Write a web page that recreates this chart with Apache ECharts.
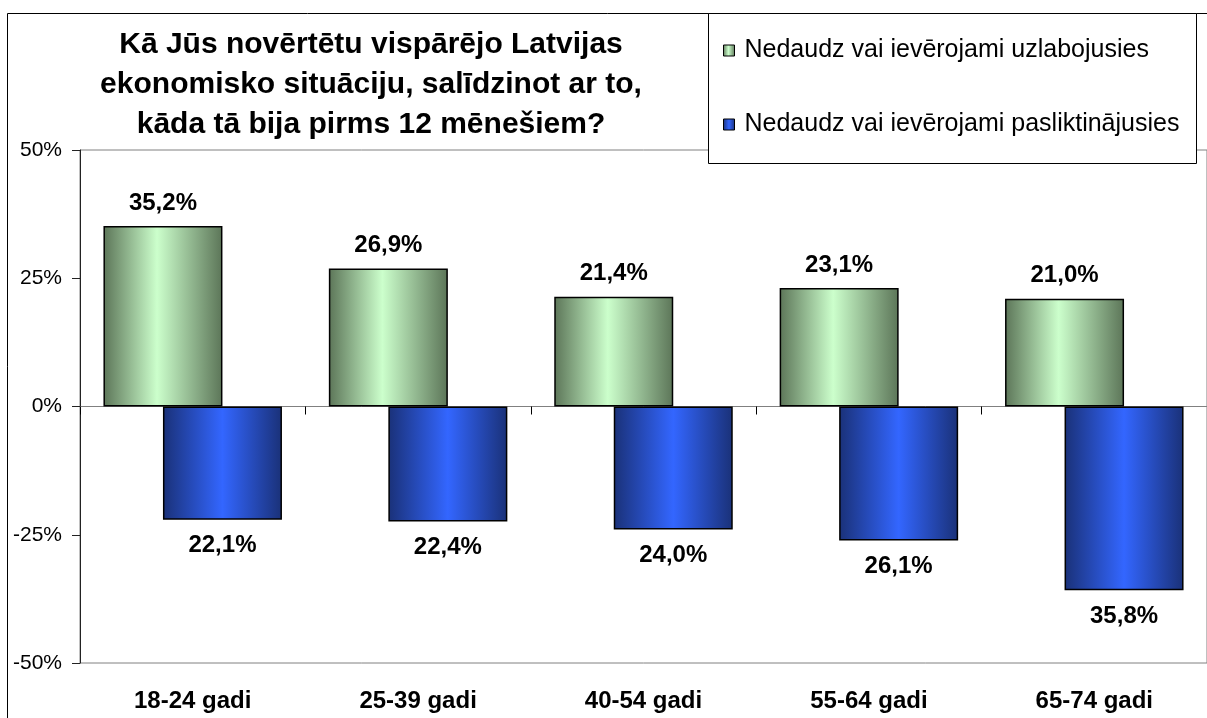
<!DOCTYPE html>
<html>
<head>
<meta charset="utf-8">
<title>Latvijas ekonomiskā situācija</title>
<script src="https://cdn.jsdelivr.net/npm/echarts@6/dist/echarts.min.js"></script>
<style>
  html, body { margin: 0; padding: 0; background: #fff; }
  #chart { width: 1207px; height: 718px; }
</style>
</head>
<body>
<div id="chart"></div>
<script>
const categories = ['18-24 gadi', '25-39 gadi', '40-54 gadi', '55-64 gadi', '65-74 gadi']
const improved = [35.2, 26.9, 21.4, 23.1, 21.0]
const worsened = [22.1, 22.4, 24.0, 26.1, 35.8]
const seriesNames = ['Nedaudz vai ievērojami uzlabojusies', 'Nedaudz vai ievērojami pasliktinājusies']
const titleText = 'Kā Jūs novērtētu vispārējo Latvijas\nekonomisko situāciju, salīdzinot ar to,\nkāda tā bija pirms 12 mēnešiem?'

const font = '"Liberation Sans", Arial, sans-serif'

const hGrad = ( edge, mid, pos ) => new echarts.graphic.LinearGradient( 0, 0, 1, 0, [
  { offset : 0, color : edge },
  { offset : pos, color : mid },
  { offset : 1, color : edge }
] )

const fmt = p => Math.abs( p.value ).toFixed( 1 ).replace( '.', ',' ) + '%'

const chart = echarts.init( document.getElementById( 'chart' ) )

chart.setOption( {
  animation : false,
  textStyle : { fontFamily : font },
  title : {
    text : titleText,
    left : 366,
    top : 20,
    textAlign : 'center',
    textStyle : {
      fontSize : 30,
      fontWeight : 'bold',
      lineHeight : 40,
      color : '#000',
      fontFamily : font
    }
  },
  graphic : [
    {
      type : 'rect',
      shape : { x : 7.5, y : 13.5, width : 1300, height : 800 },
      style : { fill : 'none', stroke : '#000', lineWidth : 1 },
      z : 1
    },
    {
      type : 'rect',
      shape : { x : 708.5, y : 13.5, width : 488, height : 150 },
      style : { fill : '#fff', stroke : '#000', lineWidth : 1 },
      z : 20
    }
  ],
  legend : {
    orient : 'vertical',
    left : 718,
    top : 33,
    itemGap : 49,
    itemWidth : 11,
    itemHeight : 11,
    icon : 'rect',
    itemStyle : { borderColor : '#000', borderWidth : 1 },
    z : 30,
    textStyle : { fontSize : 25, color : '#000', fontFamily : font, padding : [0, 0, 0, 5] },
    data : seriesNames
  },
  grid : {
    left : 80,
    top : 150,
    width : 1130,
    height : 513,
    show : true,
    borderColor : '#808080',
    borderWidth : 1,
    containLabel : false
  },
  xAxis : [
    {
      type : 'category',
      data : categories,
      position : 'bottom',
      axisLine : { show : false, onZero : false },
      axisTick : { show : false },
      axisLabel : {
        margin : 26,
        fontSize : 24,
        fontWeight : 'bold',
        color : '#000',
        fontFamily : font
      }
    },
    {
      type : 'category',
      data : categories,
      position : 'bottom',
      axisLine : { show : true, onZero : true, lineStyle : { color : '#808080', width : 1 } },
      axisTick : { show : true, length : 8, lineStyle : { color : '#000' } },
      axisLabel : { show : false }
    }
  ],
  yAxis : {
    type : 'value',
    min : -50,
    max : 50,
    interval : 25,
    axisLine : { show : true, lineStyle : { color : '#222', width : 1 } },
    axisTick : { show : true, length : 8, lineStyle : { color : '#222' } },
    splitLine : { show : false },
    axisLabel : {
      formatter : '{value}%',
      margin : 18,
      fontSize : 21,
      color : '#000',
      fontFamily : font
    }
  },
  series : [
    {
      name : seriesNames[0],
      type : 'bar',
      data : improved,
      barWidth : 119,
      barGap : '-50%',
      itemStyle : {
        color : hGrad( '#5c7558', '#ccffcc', 0.45 ),
        borderColor : '#000',
        borderWidth : 1.5
      },
      label : {
        show : true,
        position : 'top',
        distance : 11,
        formatter : fmt,
        fontSize : 24,
        fontWeight : 'bold',
        color : '#000',
        fontFamily : font
      }
    },
    {
      name : seriesNames[1],
      type : 'bar',
      data : worsened.map( v => -v ),
      barWidth : 119,
      barGap : '-50%',
      itemStyle : {
        color : hGrad( '#1a3178', '#3366ff', 0.5 ),
        borderColor : '#000',
        borderWidth : 1.5
      },
      label : {
        show : true,
        position : 'bottom',
        distance : 14,
        formatter : fmt,
        fontSize : 24,
        fontWeight : 'bold',
        color : '#000',
        fontFamily : font
      }
    }
  ]
} )
</script>
</body>
</html>
